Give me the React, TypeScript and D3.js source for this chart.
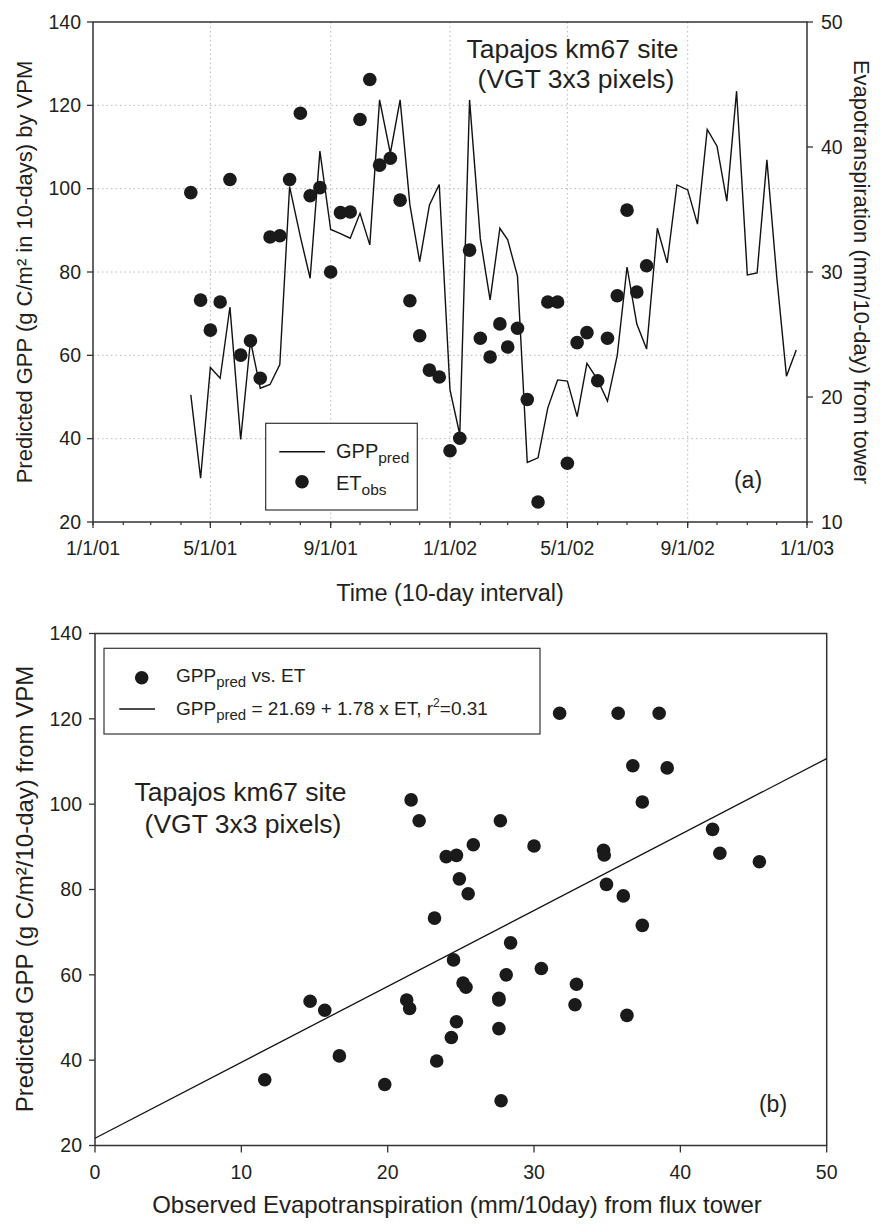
import React from "react";
import * as d3 from "d3";

// ---------------- data ----------------
// GPP predicted by VPM (g C/m2 per 10 days), one value per 10-day period starting 11 Apr 2001
const gppPred = [
  50.5, 30.5, 57.1, 54.5, 71.6, 39.8, 63.5, 52.1, 53.0, 57.8,
  100.5, 88.5, 78.5, 109.0, 90.2, 89.2, 88.1, 94.1, 86.5, 121.3,
  108.5, 121.3, 96.1, 82.5, 96.1, 101.0, 51.7, 41.0, 121.3, 88.0,
  73.3, 90.5, 87.7, 79.0, 34.3, 35.4, 47.4, 54.1, 53.8, 45.3,
  58.1, 54.1, 49.0, 60.0, 81.2, 67.5, 61.5, 90.5, 82.2, 100.9,
  99.7, 91.5, 114.2, 110.2, 97.0, 123.4, 79.3, 79.8, 106.9, 79.0,
  55.0, 61.3,
];
// Observed ET from flux tower (mm / 10 days), same 10-day periods (first 47)
const etObs = [
  36.35, 27.75, 25.35, 27.6, 37.4, 23.35, 24.5, 21.5, 32.8, 32.9,
  37.4, 42.7, 36.1, 36.75, 30.0, 34.75, 34.8, 42.2, 45.4, 38.55,
  39.1, 35.75, 27.7, 24.9, 22.15, 21.6, 15.7, 16.7, 31.75, 24.7,
  23.2, 25.85, 24.0, 25.5, 19.8, 11.6, 27.6, 27.6, 14.7, 24.35,
  25.15, 21.3, 24.7, 28.1, 34.95, 28.4, 30.5,
];
const startDekad = { year: 2001, month: 3, day: 11 }; // 11 Apr 2001
const dekadDays = [1, 11, 21];

const leftTicksA = [20, 40, 60, 80, 100, 120, 140];
const rightTicksA = [10, 20, 30, 40, 50];
const ticksBX = [0, 10, 20, 30, 40, 50];
const ticksBY = [20, 40, 60, 80, 100, 120, 140];
const regIntercept = 21.69;
const regSlope = 1.78;

// build dekad dates
function buildDates(n: number): Date[] {
  const out: Date[] = [];
  let y = startDekad.year, m = startDekad.month, k = dekadDays.indexOf(startDekad.day);
  for (let i = 0; i < n; i++) {
    out.push(new Date(y, m, dekadDays[k]));
    k++;
    if (k > 2) { k = 0; m++; if (m > 11) { m = 0; y++; } }
  }
  return out;
}
const dates = buildDates(gppPred.length);

const FONT = "'Liberation Sans', Arial, Helvetica, sans-serif";
const INK = "#231f20";

export default function App() {
  // ---------- panel A ----------
  const A = { l: 93, r: 807, t: 22, b: 522 };
  const xA = d3.scaleTime().domain([new Date(2001, 0, 1), new Date(2003, 0, 1)]).range([A.l, A.r]);
  const yL = d3.scaleLinear().domain([20, 140]).range([A.b, A.t]);
  const yR = d3.scaleLinear().domain([10, 50]).range([A.b, A.t]);
  const majorX = d3.timeMonth.every(4)!.range(new Date(2001, 0, 1), new Date(2003, 0, 2));
  const minorX = d3.timeMonth.range(new Date(2001, 0, 1), new Date(2003, 0, 2));
  const fmt = d3.timeFormat("%-m/%-d/%y");
  const lineA = d3.line<number>().x((_, i) => xA(dates[i])).y((v) => yL(v))(gppPred) || "";

  // ---------- panel B ----------
  const B = { l: 95, r: 826.7, t: 633.5, b: 1145.5 };
  const xB = d3.scaleLinear().domain([0, 50]).range([B.l, B.r]);
  const yB = d3.scaleLinear().domain([20, 140]).range([B.b, B.t]);
  const regLine = d3.line<number>().x((v) => xB(v)).y((v) => yB(regIntercept + regSlope * v))([0, 50]) || "";

  const tickFs = 19.5;
  const R = 6.8;

  return (
    <svg width={880} height={1226} style={{ position: "absolute", left: 0, top: 0, background: "#fff" }}
      fontFamily={FONT} fill={INK}>
      <rect x={0} y={0} width={880} height={1226} fill="#fff" />
      {/* ===== Panel A ===== */}
      {leftTicksA.filter((t) => t > 20 && t < 140).map((t) => (
        <line key={"gh" + t} x1={A.l} x2={A.r} y1={yL(t)} y2={yL(t)} stroke="#b8b8b8" strokeWidth={1} strokeDasharray="1.5,3" />
      ))}
      {majorX.filter((d) => +d > +xA.domain()[0] && +d < +xA.domain()[1]).map((d) => (
        <line key={"gv" + +d} x1={xA(d)} x2={xA(d)} y1={A.t} y2={A.b} stroke="#b8b8b8" strokeWidth={1} strokeDasharray="1.5,3" />
      ))}
      <rect x={A.l} y={A.t} width={A.r - A.l} height={A.b - A.t} fill="none" stroke="#333" strokeWidth={1.5} />
      {leftTicksA.map((t) => (
        <g key={"lt" + t}>
          <line x1={A.l - 6} x2={A.l} y1={yL(t)} y2={yL(t)} stroke="#333" strokeWidth={1.3} />
          <text x={A.l - 12} y={yL(t)} dy="0.35em" textAnchor="end" fontSize={tickFs}>{t}</text>
        </g>
      ))}
      {rightTicksA.map((t) => (
        <g key={"rt" + t}>
          <line x1={A.r} x2={A.r + 6} y1={yR(t)} y2={yR(t)} stroke="#333" strokeWidth={1.3} />
          <text x={A.r + 14} y={yR(t)} dy="0.35em" textAnchor="start" fontSize={tickFs}>{t}</text>
        </g>
      ))}
      {minorX.map((d) => (
        <line key={"mx" + +d} x1={xA(d)} x2={xA(d)} y1={A.b} y2={A.b + 3} stroke="#333" strokeWidth={1.2} />
      ))}
      {majorX.map((d) => (
        <g key={"Mx" + +d}>
          <line x1={xA(d)} x2={xA(d)} y1={A.b} y2={A.b + 6} stroke="#333" strokeWidth={1.3} />
          <text x={xA(d)} y={A.b + 33} textAnchor="middle" fontSize={tickFs}>{fmt(d)}</text>
        </g>
      ))}
      {/* data */}
      <path d={lineA} fill="none" stroke="#111" strokeWidth={1.4} strokeLinejoin="miter" />
      {etObs.map((v, i) => (
        <circle key={"et" + i} cx={xA(dates[i])} cy={yR(v)} r={R} fill="#1a1a1a" />
      ))}
      {/* legend A */}
      <rect x={265.7} y={423.3} width={151.6} height={86.7} fill="#fff" stroke="#333" strokeWidth={1.2} />
      <line x1={279.3} x2={325} y1={451.7} y2={451.7} stroke="#111" strokeWidth={1.4} />
      <text x={336} y={458} fontSize={20}>GPP<tspan fontSize={15.5} dy={5}>pred</tspan></text>
      <circle cx={302} cy={481.7} r={R} fill="#1a1a1a" />
      <text x={336} y={490} fontSize={20}>ET<tspan fontSize={15.5} dy={5}>obs</tspan></text>
      {/* annotations A */}
      <text x={572.5} y={58} textAnchor="middle" fontSize={26.5}>Tapajos km67 site</text>
      <text x={576} y={88} textAnchor="middle" fontSize={26.5}>(VGT 3x3 pixels)</text>
      <text x={748} y={488} textAnchor="middle" fontSize={23}>(a)</text>
      {/* axis titles A */}
      <text transform={`translate(32,272) rotate(-90)`} textAnchor="middle" fontSize={22}>Predicted GPP (g C/m² in 10-days) by VPM</text>
      <text transform={`translate(854,272) rotate(90)`} textAnchor="middle" fontSize={22}>Evapotranspiration (mm/10-day) from tower</text>
      <text x={450} y={601} textAnchor="middle" fontSize={23.5}>Time (10-day interval)</text>

      {/* ===== Panel B ===== */}
      <rect x={B.l} y={B.t} width={B.r - B.l} height={B.b - B.t} fill="none" stroke="#333" strokeWidth={1.5} />
      {ticksBY.map((t) => (
        <g key={"by" + t}>
          <line x1={B.l - 6} x2={B.l} y1={yB(t)} y2={yB(t)} stroke="#333" strokeWidth={1.3} />
          <text x={B.l - 13} y={yB(t)} dy="0.35em" textAnchor="end" fontSize={tickFs}>{t}</text>
        </g>
      ))}
      {ticksBX.map((t) => (
        <g key={"bx" + t}>
          <line x1={xB(t)} x2={xB(t)} y1={B.b} y2={B.b + 7} stroke="#333" strokeWidth={1.3} />
          <text x={xB(t)} y={B.b + 33} textAnchor="middle" fontSize={tickFs}>{t}</text>
        </g>
      ))}
      <path d={regLine} fill="none" stroke="#111" strokeWidth={1.3} />
      {etObs.map((v, i) => (
        <circle key={"sc" + i} cx={xB(v)} cy={yB(gppPred[i])} r={R} fill="#1a1a1a" />
      ))}
      {/* legend B */}
      <rect x={104} y={648.3} width={436} height={85.7} fill="#fff" stroke="#333" strokeWidth={1.2} />
      <circle cx={141.7} cy={677.7} r={R} fill="#1a1a1a" />
      <text x={176} y={682} fontSize={19}>GPP<tspan fontSize={15} dy={5}>pred</tspan><tspan dy={-5} fontSize={19}> vs. ET</tspan></text>
      <line x1={119.3} x2={155} y1={709} y2={709} stroke="#111" strokeWidth={1.3} />
      <text x={176} y={715} fontSize={19}>GPP<tspan fontSize={15} dy={5}>pred</tspan><tspan dy={-5} fontSize={19}> = 21.69 + 1.78 x ET, r</tspan><tspan fontSize={12} dy={-8}>2</tspan><tspan dy={8} fontSize={19}>=0.31</tspan></text>
      <text x={240.5} y={801} textAnchor="middle" fontSize={26.5}>Tapajos km67 site</text>
      <text x={243} y={833} textAnchor="middle" fontSize={26.5}>(VGT 3x3 pixels)</text>
      <text x={773} y={1112} textAnchor="middle" fontSize={23}>(b)</text>
      <text transform={`translate(33,889) rotate(-90)`} textAnchor="middle" fontSize={24}>Predicted GPP (g C/m²/10-day) from VPM</text>
      <text x={457} y={1213} textAnchor="middle" fontSize={24}>Observed Evapotranspiration (mm/10day) from flux tower</text>
    </svg>
  );
}
